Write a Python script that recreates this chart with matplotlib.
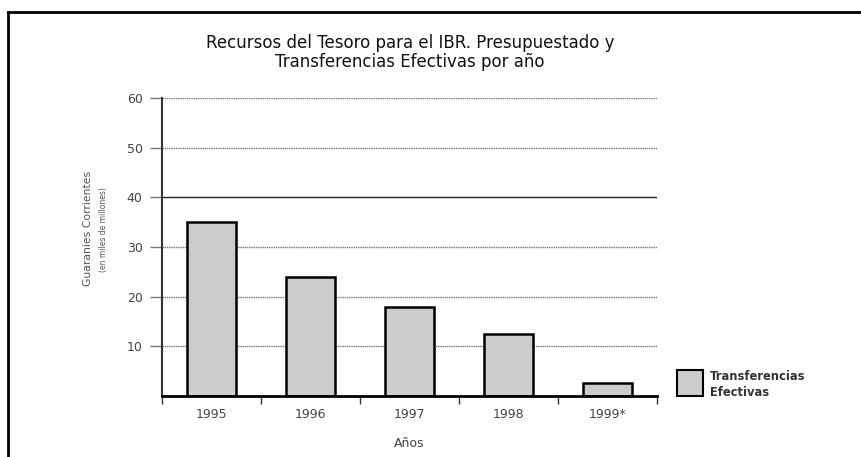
import matplotlib
matplotlib.use("Agg")
import matplotlib.pyplot as plt
from matplotlib.lines import Line2D
from matplotlib.patches import Rectangle

years = ["1995", "1996", "1997", "1998", "1999*"]
transferencias = [35.0, 24.0, 18.0, 12.5, 2.7]
y_ticks = [10, 20, 30, 40, 50, 60]

plt.rcParams["font.family"] = ["DejaVu Sans"]

W, H = 862, 457
fig = plt.figure(figsize=(W / 100, H / 100), dpi=100)
ax = fig.add_axes([162 / W, 1 - 396 / H, (657 - 162) / W, (396 - 98) / H])

# page frame (top and left edges)
fig.add_artist(Line2D([8 / W, 8 / W], [0, 1 - 12 / H], transform=fig.transFigure,
                      color="black", lw=2.0))
fig.add_artist(Line2D([8 / W, 1], [1 - 12 / H, 1 - 12 / H], transform=fig.transFigure,
                      color="black", lw=2.0))

# gridlines
for v in y_ticks:
    if v == 40:
        ax.axhline(v, color="#222222", lw=1.0, zorder=1)
    else:
        ax.axhline(v, color="#777777", lw=1.0, ls=(0, (1, 0.6)), zorder=1)

x = [i + 0.5 for i in range(len(years))]
ax.bar(x, transferencias, width=0.5, color="#cccccc", edgecolor="black",
       linewidth=1.8, zorder=3)

ax.set_xlim(0, len(years))
ax.set_ylim(0, 60)

ax.set_yticks(y_ticks)
ax.set_yticklabels([str(v) for v in y_ticks], fontsize=9, color="#444444")
ax.tick_params(axis="y", length=9, width=1.0, color="#777777", pad=5)

ax.set_xticks(range(len(years) + 1))
ax.set_xticklabels([])
ax.set_xticks(x, minor=True)
ax.set_xticklabels(years, minor=True, fontsize=9, color="#444444")
ax.tick_params(axis="x", which="major", length=6, width=1.0, color="#333333")
ax.tick_params(axis="x", which="minor", length=0, pad=9)

for s in ["top", "right"]:
    ax.spines[s].set_visible(False)
ax.spines["left"].set_linewidth(1.5)
ax.spines["left"].set_color("#333333")
ax.spines["bottom"].set_linewidth(2.0)
ax.spines["bottom"].set_color("black")
ax.spines["bottom"].set_zorder(4)

ax.set_xlabel("Años", fontsize=9, color="#444444", labelpad=11)

fig.text(88 / W, 1 - 228 / H, "Guaranies Corrientes", rotation=90, fontsize=7.8,
         color="#555555", ha="center", va="center")
fig.text(104 / W, 1 - 230 / H, "(en miles de millones)", rotation=90, fontsize=5.5,
         color="#555555", ha="center", va="center")

fig.text(410 / W, 1 - 43 / H, "Recursos del Tesoro para el IBR. Presupuestado y",
         fontsize=12, ha="center", va="center", color="#111111")
fig.text(410 / W, 1 - 62 / H, "Transferencias Efectivas por año",
         fontsize=12, ha="center", va="center", color="#111111")

# legend
fig.add_artist(Rectangle((677 / W, 1 - 396 / H), 26 / W, 26 / H,
                         transform=fig.transFigure, facecolor="#cccccc",
                         edgecolor="black", linewidth=1.5))
fig.text(710 / W, 1 - 377 / H, "Transferencias", fontsize=8.3, fontweight="bold",
         color="#333333", ha="left", va="center")
fig.text(710 / W, 1 - 392 / H, "Efectivas", fontsize=8.3, fontweight="bold",
         color="#333333", ha="left", va="center")

fig.savefig("out.png", dpi=100)
